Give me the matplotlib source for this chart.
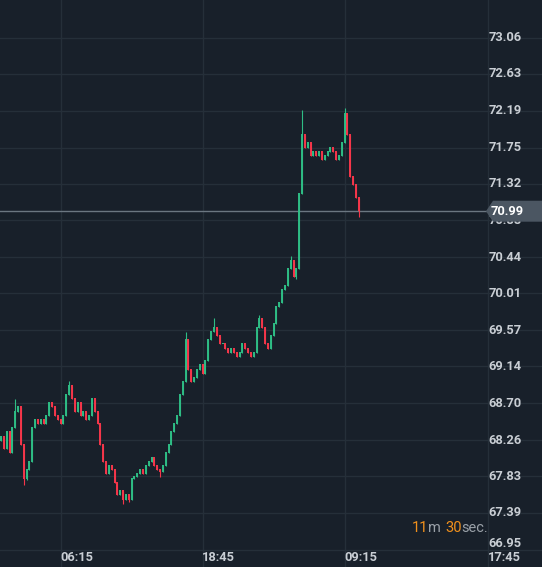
import matplotlib
matplotlib.use("Agg")
import matplotlib.pyplot as plt
from matplotlib.patches import Polygon

closes = [68.30,68.15,68.35,68.10,68.40,68.60,68.65,68.20,67.80,67.90,
          68.00,68.40,68.50,68.45,68.50,68.45,68.55,68.70,68.65,68.55,
          68.50,68.45,68.55,68.80,68.90,68.75,68.60,68.70,68.55,68.60,
          68.50,68.55,68.75,68.60,68.45,68.20,68.00,67.85,67.95,67.90,
          67.75,67.60,67.65,67.55,67.60,67.55,67.80,67.82,67.85,67.90,
          67.85,67.95,68.00,68.05,67.95,67.90,67.88,67.95,68.10,68.20,
          68.35,68.45,68.55,68.80,68.95,69.45,69.10,68.95,69.00,69.10,
          69.15,69.05,69.20,69.45,69.55,69.60,69.50,69.40,69.40,69.35,
          69.30,69.35,69.30,69.25,69.30,69.40,69.35,69.30,69.25,69.30,
          69.60,69.70,69.60,69.40,69.35,69.50,69.65,69.85,69.90,70.05,
          70.10,70.30,70.40,70.20,70.30,71.20,71.90,71.75,71.80,71.65,
          71.70,71.65,71.70,71.60,71.65,71.70,71.75,71.70,71.60,71.65,
          71.80,72.15,71.90,71.40,71.30,71.15,70.99]
first_open = 68.25
high_overrides = {5: 68.75, 24: 68.97, 65: 69.55, 75: 69.72, 91: 69.75, 102: 70.45, 106: 72.2, 121: 72.22}
low_overrides = {8: 67.72, 9: 67.78, 43: 67.5, 45: 67.52, 56: 67.82, 104: 70.18, 126: 70.92}
price_ticks = [73.06, 72.63, 72.19, 71.75, 71.32, 70.88, 70.44, 70.01, 69.57, 69.14, 68.70, 68.26, 67.83, 67.39, 66.95]
time_labels = ["06:15", "18:45", "09:15", "17:45"]
time_idx = [21.1, 71.1, 121.1, 171.5]
last_price = 70.99

BG = "#18202a"; GRID = "#252f39"; UP = "#2ebd85"; DN = "#f6364a"
fig = plt.figure(figsize=(5.42, 5.67), dpi=100, facecolor=BG)
ax = fig.add_axes([0, 0, 1, 1], facecolor=BG)
step = 2.84
ax.set_xlim(-0.35, 542 / step - 0.35)
ax.set_ylim(66.745, 73.51)
for s in ax.spines.values():
    s.set_visible(False)
ax.set_xticks([]); ax.set_yticks([])

for p in price_ticks:
    ax.axhline(p, color=GRID, lw=1, zorder=0)
for t in time_idx:
    ax.axvline(t, color=GRID, lw=1, zorder=0)

opens = [first_open] + closes[:-1]
for i, (o, c) in enumerate(zip(opens, closes)):
    col = UP if c >= o else DN
    hi = high_overrides.get(i, max(o, c))
    lo = low_overrides.get(i, min(o, c))
    ax.vlines(i, lo, hi, color=col, lw=0.8, zorder=3)
    ax.vlines(i, min(o, c), max(o, c) + 0.012, color=col, lw=1.4, zorder=3)

ax.axhline(last_price, color="#6b7681", lw=1, zorder=2)

xr = 505 / step - 0.35
for p in price_ticks:
    y = p if p != 66.95 else 67.02
    ax.text(xr, y, f"{p:.2f}", color="#c9ced4", fontsize=9.3, ha="center", va="center",
            fontweight="bold", family="Roboto", zorder=4)
x0 = 485 / step; x1 = 492 / step; x2 = 542 / step
h = 0.125
ax.add_patch(Polygon([[x0, last_price], [x1, last_price + h], [x2, last_price + h],
                      [x2, last_price - h], [x1, last_price - h]], closed=True,
                     facecolor="#4b5662", edgecolor="none", zorder=5))
ax.text(xr + 0.6, last_price, f"{last_price:.2f}", color="#ffffff", fontsize=9.3, ha="center",
        va="center", fontweight="bold", family="Roboto", zorder=6)

for t, lab in zip(time_idx, time_labels):
    ax.text(t + 16 / step, 66.86, lab, color="#c9ced4", fontsize=9.3, ha="center",
            va="center", fontweight="bold", family="Roboto")

y_cd = 72.19 - (528 - 110.7) / 83.8
parts = [("11", "#f0901c"), ("m ", "#9aa1a8"), ("30", "#f0901c"), ("sec.", "#9aa1a8")]
x = 411 / step
r = fig.canvas.get_renderer()
for txt, col in parts:
    tt = ax.text(x, y_cd, txt, color=col, fontsize=10.5, ha="left", va="center", family="Roboto")
    bb = tt.get_window_extent(renderer=r)
    x += bb.width / step

fig.savefig("out.png", dpi=100, facecolor=BG)
